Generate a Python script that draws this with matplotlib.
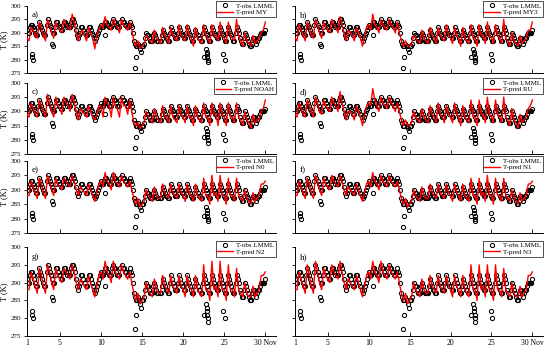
import numpy as np
import matplotlib
matplotlib.use("Agg")
import matplotlib.pyplot as plt

# === observed T at LMML, 8 samples per day (every 3 h), 1 Nov 00h .. 30 Nov 00h
obs_vals = [
    291, 290, 290, 292, 293, 293, 292, 291,
    290, 289, 289, 292, 294, 293, 292, 291,
    290, 289, 289, 293, 295, 294, 293, 292,
    291, 290, 290, 292, 294, 294, 293, 292,
    292, 291, 291, 293, 294, 294, 293, 292,
    293, 292, 292, 294, 295, 295, 294, 293,
    291, 289, 288, 289, 290, 292, 292, 291,
    290, 289, 289, 291, 292, 292, 291, 290,
    289, 288, 287, 288, 289, 290, 291, 292,
    293, 292, 292, 293, 294, 294, 293, 293,
    292, 292, 292, 294, 295, 294, 294, 293,
    292, 292, 292, 294, 295, 294, 294, 293,
    293, 292, 292, 293, 294, 293, 292, 290,
    287, 286, 285, 285, 286, 285, 284, 283,
    285, 285, 286, 288, 290, 289, 289, 288,
    287, 287, 287, 289, 290, 289, 288, 287,
    287, 287, 287, 289, 291, 290, 289, 288,
    288, 287, 287, 290, 292, 291, 290, 289,
    288, 288, 288, 290, 292, 291, 290, 289,
    289, 288, 288, 290, 292, 291, 290, 289,
    288, 287, 287, 289, 291, 290, 289, 288,
    288, 287, 287, 290, 292, 291, 290, 289,
    288, 287, 287, 290, 292, 291, 290, 289,
    289, 288, 288, 290, 292, 291, 290, 289,
    288, 287, 287, 290, 292, 291, 290, 289,
    288, 287, 287, 290, 292, 291, 290, 288,
    287, 286, 286, 288, 290, 289, 288, 287,
    286, 285, 285, 286, 288, 288, 287, 286,
    287, 288, 288, 289, 290, 290, 290, 290,
    291,
]
# isolated low observations
out_days = [1.6, 1.65, 1.7, 4.1, 4.15, 10.5, 14.15, 14.3, 22.5,
            22.8, 22.85, 22.9, 22.95, 23.0, 23.05, 24.9, 25.1]
out_vals = [282, 281, 280, 286, 285, 289, 277, 281, 281,
            284, 283, 282, 281, 280, 279, 282, 280]

# === predicted T, 4 samples per day (00,06,12,18 h)
pred_MY = [
    288, 287, 292, 291, 289, 288, 294, 292, 289, 287, 295, 293, 290, 288, 294, 292,
    291, 290, 295, 293, 292, 291, 297, 294, 290, 287, 290, 291, 289, 287, 292, 290,
    288, 284, 289, 291, 293, 292, 296, 293, 292, 291, 295, 293, 292, 290, 295, 293,
    292, 291, 294, 291, 287, 285, 287, 284, 285, 286, 289, 288, 287, 286, 291, 288,
    287, 286, 292, 289, 288, 286, 292, 289, 288, 287, 293, 289, 288, 287, 293, 289,
    288, 285, 292, 288, 287, 286, 293, 289, 288, 286, 293, 289, 289, 287, 294, 289,
    288, 286, 294, 289, 288, 287, 295, 289, 287, 285, 290, 287, 286, 285, 289, 286,
    287, 288, 290, 291, 294,
]
pred_MY3 = [
    288, 287, 293, 291, 289, 287, 294, 292, 289, 288, 295, 293, 290, 288, 294, 292,
    291, 290, 295, 293, 292, 290, 296, 293, 290, 287, 291, 290, 289, 287, 292, 290,
    288, 285, 289, 292, 293, 291, 297, 293, 292, 290, 295, 293, 292, 291, 295, 293,
    292, 290, 294, 290, 287, 285, 287, 285, 285, 286, 289, 288, 287, 286, 291, 288,
    287, 286, 292, 289, 288, 286, 292, 289, 288, 287, 293, 289, 288, 286, 292, 289,
    288, 285, 292, 288, 287, 286, 293, 288, 288, 285, 293, 289, 289, 286, 294, 289,
    288, 286, 293, 289, 288, 286, 295, 288, 287, 285, 290, 287, 286, 285, 289, 286,
    287, 288, 291, 291, 294,
]
pred_NOAH = [
    289, 288, 293, 291, 289, 288, 294, 292, 290, 288, 296, 293, 290, 288, 295, 292,
    291, 289, 295, 293, 292, 290, 296, 293, 290, 287, 291, 290, 289, 288, 292, 290,
    288, 287, 289, 292, 292, 288, 295, 293, 292, 288, 295, 292, 291, 288, 295, 292,
    292, 289, 294, 290, 286, 285, 286, 284, 285, 286, 290, 288, 287, 286, 291, 288,
    287, 286, 292, 288, 288, 286, 292, 288, 287, 286, 292, 289, 288, 286, 292, 288,
    288, 285, 292, 288, 287, 286, 293, 288, 288, 285, 293, 289, 289, 285, 293, 289,
    288, 285, 293, 288, 288, 286, 293, 288, 287, 285, 290, 287, 286, 284, 289, 286,
    287, 287, 290, 291, 294,
]
pred_RU = [
    289, 288, 293, 291, 289, 288, 294, 292, 290, 288, 295, 293, 290, 289, 294, 292,
    291, 290, 295, 293, 292, 290, 297, 293, 290, 287, 290, 290, 289, 287, 292, 290,
    288, 285, 289, 292, 293, 292, 298, 294, 292, 290, 295, 293, 292, 291, 295, 293,
    292, 290, 293, 290, 287, 285, 287, 285, 285, 286, 290, 288, 287, 286, 291, 288,
    287, 286, 292, 289, 288, 286, 293, 289, 288, 286, 292, 289, 288, 286, 293, 289,
    288, 285, 292, 288, 287, 286, 294, 288, 288, 285, 294, 289, 289, 286, 295, 289,
    288, 286, 294, 289, 288, 286, 295, 288, 287, 285, 291, 287, 286, 284, 289, 286,
    287, 288, 291, 292, 294,
]
pred_N0 = [
    288, 288, 293, 291, 289, 287, 294, 292, 289, 287, 295, 293, 290, 288, 294, 292,
    291, 290, 294, 293, 292, 291, 295, 293, 290, 288, 291, 290, 289, 288, 292, 290,
    288, 286, 289, 292, 293, 291, 296, 293, 292, 290, 296, 293, 292, 291, 295, 293,
    292, 291, 293, 290, 287, 285, 287, 284, 285, 286, 290, 288, 287, 286, 291, 288,
    287, 287, 292, 289, 288, 287, 292, 289, 288, 287, 292, 289, 288, 286, 292, 289,
    288, 286, 292, 288, 287, 286, 294, 288, 288, 285, 295, 288, 289, 286, 295, 288,
    288, 285, 294, 288, 288, 286, 294, 288, 287, 286, 290, 287, 286, 285, 289, 286,
    287, 288, 292, 292, 293,
]
pred_N1 = [
    288, 288, 293, 291, 289, 287, 294, 292, 289, 287, 295, 293, 290, 288, 294, 292,
    291, 290, 295, 293, 292, 291, 295, 293, 290, 288, 291, 290, 289, 288, 292, 290,
    288, 286, 289, 292, 293, 291, 296, 293, 292, 290, 295, 293, 292, 291, 295, 293,
    292, 291, 293, 290, 287, 285, 287, 284, 285, 286, 290, 288, 287, 286, 291, 288,
    287, 287, 292, 289, 288, 287, 292, 289, 288, 287, 292, 289, 288, 286, 292, 289,
    288, 286, 292, 288, 287, 286, 294, 288, 288, 285, 294, 288, 289, 286, 295, 288,
    288, 285, 294, 288, 288, 286, 294, 288, 287, 286, 290, 287, 286, 285, 289, 286,
    287, 288, 292, 292, 293,
]
pred_N2 = [
    288, 288, 293, 291, 289, 287, 294, 292, 289, 287, 295, 293, 290, 288, 294, 292,
    291, 290, 294, 293, 292, 291, 295, 293, 290, 288, 291, 290, 289, 288, 292, 290,
    288, 286, 289, 292, 293, 291, 296, 293, 292, 290, 296, 293, 292, 291, 295, 293,
    292, 291, 293, 290, 287, 285, 287, 284, 285, 286, 290, 288, 287, 286, 291, 288,
    287, 287, 292, 289, 288, 287, 292, 289, 288, 287, 292, 289, 288, 286, 292, 289,
    288, 286, 292, 288, 287, 286, 295, 288, 288, 285, 296, 288, 289, 286, 296, 288,
    288, 285, 295, 288, 288, 286, 294, 288, 287, 286, 290, 287, 286, 286, 289, 286,
    287, 288, 292, 292, 293,
]
pred_N3 = [
    288, 288, 293, 291, 289, 287, 295, 292, 289, 287, 296, 293, 290, 288, 294, 292,
    291, 290, 295, 293, 292, 291, 296, 293, 290, 288, 291, 290, 289, 288, 292, 290,
    288, 286, 289, 292, 293, 291, 296, 293, 292, 290, 296, 293, 292, 291, 295, 293,
    292, 291, 293, 290, 287, 285, 287, 284, 285, 286, 290, 288, 287, 286, 291, 288,
    287, 287, 292, 289, 288, 287, 292, 289, 288, 287, 292, 289, 288, 286, 292, 289,
    288, 286, 292, 288, 287, 286, 295, 288, 288, 285, 295, 288, 289, 286, 295, 288,
    288, 285, 295, 288, 288, 286, 294, 288, 287, 286, 290, 287, 286, 286, 289, 286,
    287, 288, 292, 292, 293,
]

panel_tags = ["a)", "b)", "c)", "d)", "e)", "f)", "g)", "h)"]
pred_names = ["MY", "MY3", "NOAH", "RU", "N0", "N1", "N2", "N3"]
preds = [pred_MY, pred_MY3, pred_NOAH, pred_RU, pred_N0, pred_N1, pred_N2, pred_N3]

xticks = [1, 5, 10, 15, 20, 25, 30]
xticklabels = ["1", "5", "10", "15", "20", "25", "30 Nov"]
yticks = [275, 280, 285, 290, 295, 300]

obs_t = 1 + np.arange(len(obs_vals)) / 8.0
all_obs_t = np.concatenate([obs_t, out_days])
all_obs_v = np.concatenate([obs_vals, out_vals])

plt.rcParams['font.family'] = ['Liberation Serif', 'DejaVu Serif']

fig = plt.figure(figsize=(5.5, 3.51), dpi=100)

# axes rectangles in pixels (top, bottom) per row, (left, right) per column
rows_px = [(6, 73), (83, 154), (161, 233), (247, 336)]
cols_px = [(27, 276), (295, 543)]

for k in range(8):
    r, c = divmod(k, 2)
    top, bot = rows_px[r]
    left, right = cols_px[c]
    ax = fig.add_axes([left / 550, 1 - bot / 351, (right - left) / 550, (bot - top) / 351])

    pred = preds[k]
    pred_t = 1 + np.arange(len(pred)) / 4.0
    ax.plot(all_obs_t, all_obs_v, 'o', mfc='none', mec='black', ms=3.0, mew=0.75,
            label='T-obs LMML', zorder=2)
    ax.plot(pred_t, pred, '-', color='red', lw=1.0, label=f'T-pred {pred_names[k]}', zorder=3)

    ax.set_xlim(1, 31.3)
    ax.set_ylim(275, 300)
    ax.set_xticks(xticks)
    ax.set_yticks(yticks)
    ax.spines['top'].set_visible(False)
    ax.spines['right'].set_visible(False)
    for s in ['left', 'bottom']:
        ax.spines[s].set_linewidth(0.7)
    ax.tick_params(axis='x', direction='in', length=3, width=0.6, labelsize=5.5, pad=2)
    ax.tick_params(axis='y', direction='out', length=2.5, width=0.6, labelsize=5, pad=1.5)

    if r == 3:
        ax.set_xticklabels(xticklabels)
    else:
        ax.set_xticklabels([])
    if c == 0:
        ax.set_ylabel("T (K)", fontsize=6, labelpad=2)
    else:
        ax.set_yticklabels([])

    ax.text(0.02, 0.93, panel_tags[k], transform=ax.transAxes, fontsize=6.5,
            ha='left', va='top')
    leg = ax.legend(loc='upper right', bbox_to_anchor=(1.0, 1.07), fontsize=5,
                    frameon=True, fancybox=False, borderpad=0.25, labelspacing=0.1,
                    handlelength=2.2, handletextpad=0.5, borderaxespad=0)
    leg.get_frame().set_edgecolor('black')
    leg.get_frame().set_linewidth(0.6)

plt.savefig("out.png", dpi=100)
plt.close()
